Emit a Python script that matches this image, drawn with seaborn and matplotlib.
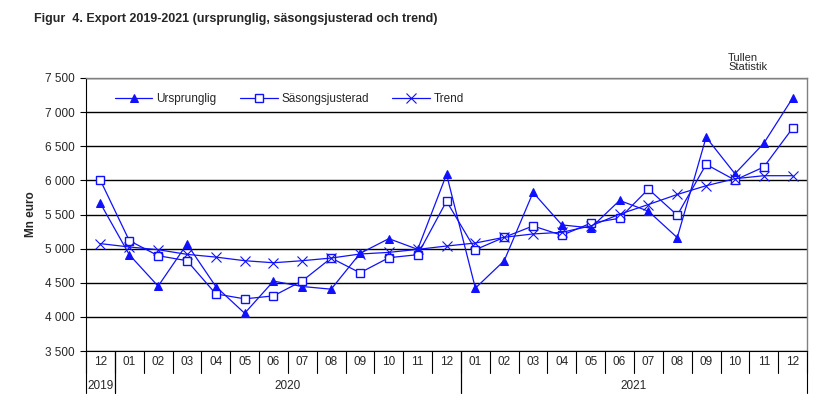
import pandas as pd
import numpy as np
import matplotlib
matplotlib.use('Agg')
import matplotlib.pyplot as plt
import matplotlib.transforms as mtransforms
import seaborn as sns

sns.set_style('white')
plt.rcParams['font.family'] = ['Liberation Sans', 'DejaVu Sans']

months = ['12', '01', '02', '03', '04', '05', '06', '07', '08', '09', '10', '11', '12',
          '01', '02', '03', '04', '05', '06', '07', '08', '09', '10', '11', '12']
years = ['2019', '2020', '2021']
year_spans = [(0, 0), (1, 12), (13, 24)]

ursprunglig = [5662, 4912, 4451, 5069, 4446, 4054, 4525, 4446, 4407, 4931, 5147, 4990, 6088,
               4422, 4824, 5824, 5348, 5304, 5706, 5549, 5162, 6632, 6098, 6544, 7206]
sasong = [6000, 5118, 4897, 4824, 4338, 4265, 4309, 4529, 4863, 4647, 4868, 4912, 5696,
          4985, 5167, 5333, 5196, 5373, 5446, 5873, 5490, 6235, 6005, 6196, 6765]
trend = [5074, 5025, 4985, 4917, 4877, 4824, 4794, 4824, 4863, 4922, 4946, 4990, 5039,
         5083, 5167, 5216, 5240, 5333, 5505, 5647, 5794, 5922, 6025, 6069, 6069]

df = pd.DataFrame({'pos': np.arange(len(months)), 'Ursprunglig': ursprunglig,
                   'Säsongsjusterad': sasong, 'Trend': trend})

fig = plt.figure(figsize=(8.32, 4.16), dpi=100)
ax = fig.add_axes([0.1034, 0.156, 0.8666, 0.6565])

blue = '#1010FF'
sns.lineplot(data=df, x='pos', y='Ursprunglig', ax=ax, color=blue, lw=0.9, marker='^',
             markersize=6, markerfacecolor=blue, markeredgecolor=blue, label='Ursprunglig')
sns.lineplot(data=df, x='pos', y='Säsongsjusterad', ax=ax, color=blue, lw=0.9, marker='s',
             markersize=6, markerfacecolor='white', markeredgecolor=blue, markeredgewidth=1,
             label='Säsongsjusterad')
sns.lineplot(data=df, x='pos', y='Trend', ax=ax, color=blue, lw=0.9, marker='x',
             markersize=7, markeredgecolor=blue, markeredgewidth=0.8, label='Trend')

ax.set_xlim(-0.5, len(months) - 0.5)
ax.set_ylim(3500, 7500)
yt = np.arange(3500, 7501, 500)
ax.set_yticks(yt)
ax.set_yticklabels([f'{v:,}'.replace(',', ' ') for v in yt], fontsize=8.5)
ax.tick_params(axis='y', length=4, width=0.8, color='black', direction='out', pad=4, left=True)
ax.set_xticks([])
ax.set_xlabel('')
ax.set_ylabel('Mn euro', fontsize=8.5, fontweight='bold', labelpad=6)
for v in yt:
    ax.axhline(v, color='black', lw=1, zorder=0)

for side in ['top', 'right']:
    ax.spines[side].set_color('#808080')
    ax.spines[side].set_linewidth(1)
ax.spines['left'].set_color('black')
ax.spines['bottom'].set_color('black')

# category table below the axis
trans = mtransforms.blended_transform_factory(ax.transData, ax.transAxes)
for i, m in enumerate(months):
    ax.text(i, -0.04, m, transform=trans, ha='center', va='center', fontsize=8.5)
for i in range(len(months) + 1):
    ax.plot([i - 0.5, i - 0.5], [0, -0.08], transform=trans, color='black', lw=0.8, clip_on=False)
for (a, b), y in zip(year_spans, years):
    ax.text((a + b) / 2, -0.128, y, transform=trans, ha='center', va='center', fontsize=8.5)
    ax.plot([a - 0.5, a - 0.5], [0, -0.155], transform=trans, color='black', lw=0.8, clip_on=False)
    ax.plot([b + 0.5, b + 0.5], [0, -0.155], transform=trans, color='black', lw=0.8, clip_on=False)

ax.legend(loc='upper left', bbox_to_anchor=(0.025, 0.985), ncol=3, frameon=False, fontsize=8.5,
          handlelength=3.2, columnspacing=2.0, handletextpad=0.3)

fig.text(0.041, 0.955, 'Figur  4. Export 2019-2021 (ursprunglig, säsongsjusterad och trend)',
         fontsize=9, fontweight='bold', ha='left', va='center')
fig.text(0.875, 0.85, 'Tullen\nStatistik', fontsize=8, ha='left', va='center', linespacing=0.95)

fig.savefig('out.png', dpi=100)
